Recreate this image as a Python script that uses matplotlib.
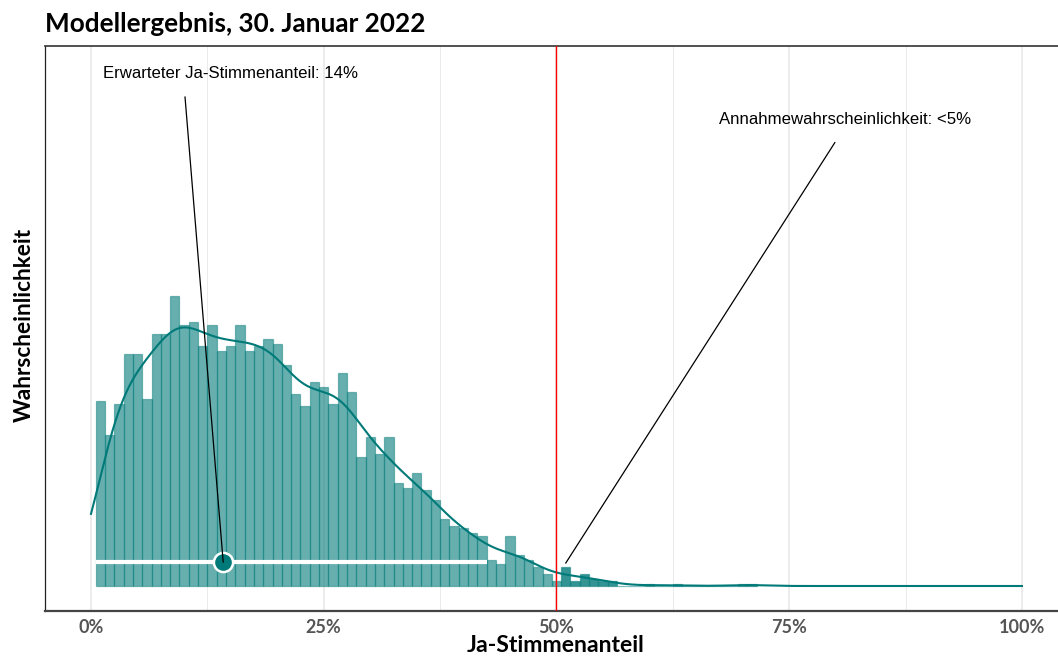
"""Histogram of simulated yes-vote shares with density curve and expected-value marker."""

import matplotlib

matplotlib.use("Agg")
import matplotlib.pyplot as plt
import numpy as np
from matplotlib.colors import to_rgba

# Simulated outcomes, counted in 1%-wide bins centred on whole percent values.
bin_centers = list(range(1, 72))
bin_counts = [
    77, 63, 76, 97, 97, 78, 105, 105, 121, 109,
    110, 100, 109, 98, 100, 109, 98, 100, 103, 101,
    92, 80, 75, 85, 83, 76, 89, 81, 54, 62,
    55, 62, 43, 41, 47, 40, 36, 28, 25, 24,
    22, 21, 11, 9, 21, 13, 11, 8, 5, 2,
    8, 2, 5, 3, 2, 2, 0, 0, 0, 1,
    0, 0, 1, 0, 0, 0, 0, 0, 0, 1,
    1,
]
bin_width = 1.0

expected_share = 14.2
interval_low, interval_high = 0.5, 42.5
majority_line = 50
x_ticks = [0, 25, 50, 75, 100]
x_tick_labels = ["0%", "25%", "50%", "75%", "100%"]

title = "Modellergebnis, 30. Januar 2022"
x_label = "Ja-Stimmenanteil"
y_label = "Wahrscheinlichkeit"
note_expected = "Erwarteter Ja-Stimmenanteil: 14%"
note_accept = "Annahmewahrscheinlichkeit: <5%"

TEAL = "#007A78"
HEAD_FONT = ["Lato", "DejaVu Sans"]
NOTE_FONT = ["Liberation Sans", "DejaVu Sans"]


def density_curve(centers, counts, grid):
    """Gaussian KDE of the binned samples (bw.nrd0), scaled to bin counts."""
    centers = np.asarray(centers, dtype=float)
    counts = np.asarray(counts, dtype=float)
    samples = np.repeat(centers, counts.astype(int))
    n = samples.size
    sd = samples.std(ddof=1)
    q1, q3 = np.percentile(samples, [25, 75])
    bw = 0.9 * min(sd, (q3 - q1) / 1.34) * n ** -0.2
    z = (grid[:, None] - centers[None, :]) / bw
    kernel = np.exp(-0.5 * z**2) / (bw * np.sqrt(2 * np.pi))
    return (kernel * counts[None, :]).sum(axis=1) * bin_width


def plot_chart(output="out.png"):
    fig = plt.figure(figsize=(10.58, 6.57), dpi=100)
    ax = fig.add_axes([45 / 1058, 46 / 657, 1013 / 1058, 565 / 657])

    centers = np.asarray(bin_centers, dtype=float)
    counts = np.asarray(bin_counts, dtype=float)
    lower = centers < majority_line + 0.5
    # translucent outlines: shared bin edges overlap and read darker than the tops
    ax.bar(centers[lower], counts[lower], width=bin_width, facecolor=to_rgba(TEAL, 0.6),
           edgecolor=to_rgba(TEAL, 0.45), linewidth=0.9, zorder=2)
    ax.bar(centers[~lower], counts[~lower], width=bin_width, facecolor=to_rgba(TEAL, 0.8),
           edgecolor=to_rgba(TEAL, 0.5), linewidth=0.9, zorder=2)

    grid = np.linspace(0, 100, 1001)
    ax.plot(grid, density_curve(centers, counts, grid), color=TEAL, lw=1.5, zorder=4)

    # interval + expected value, drawn just above the baseline
    marker_y = 10
    ax.plot([interval_low, interval_high], [marker_y, marker_y], color="white", lw=3,
            solid_capstyle="butt", zorder=5)
    ax.plot([expected_share], [marker_y], "o", ms=13.8, mfc=TEAL, mec="white", mew=1.8, zorder=6)

    ax.axvline(majority_line, color="red", lw=1, zorder=7)

    ax.plot([10.1, expected_share], [204, marker_y], color="black", lw=0.9, zorder=8)
    ax.text(1.3, 214, note_expected, family=NOTE_FONT, fontsize=12.1, va="center", ha="left")
    ax.plot([79.9, 51.0], [185, 9.6], color="black", lw=0.9, zorder=8)
    ax.text(67.45, 194.6, note_accept, family=NOTE_FONT, fontsize=12.1, va="center", ha="left")

    ax.set_xlim(-4.94, 103.87)
    ax.set_ylim(-10.43, 225.3)
    ax.set_xticks(x_ticks)
    ax.set_xticklabels(x_tick_labels, family=HEAD_FONT, fontweight="bold", fontsize=13, color="#555555")
    ax.set_xticks([12.5, 37.5, 62.5, 87.5], minor=True)
    ax.set_yticks([])
    ax.tick_params(axis="x", which="both", length=0, pad=6)
    ax.grid(axis="x", which="major", color="#EBEBEB", lw=1.3, zorder=0)
    ax.grid(axis="x", which="minor", color="#EBEBEB", lw=0.7, zorder=0)
    ax.set_axisbelow(True)

    ax.spines["right"].set_visible(False)
    ax.spines["top"].set_color("#333333")
    ax.spines["top"].set_linewidth(1.2)
    ax.spines["left"].set_color("#222222")
    ax.spines["left"].set_linewidth(0.9)
    ax.spines["bottom"].set_color("#444444")
    ax.spines["bottom"].set_linewidth(1.6)

    fig.text(45 / 1058, 1 - 24 / 657, title, family=HEAD_FONT, fontweight="bold", fontsize=18.8,
             va="center", ha="left")
    fig.text(556 / 1058, 1 - 646 / 657, x_label, family=HEAD_FONT, fontweight="bold", fontsize=16.6,
             va="center", ha="center")
    fig.text(24 / 1058, 1 - 325 / 657, y_label, family=HEAD_FONT, fontweight="bold", fontsize=16.3,
             va="center", ha="center", rotation=90)

    fig.savefig(output, dpi=100)
    plt.close(fig)


if __name__ == "__main__":
    plot_chart()
